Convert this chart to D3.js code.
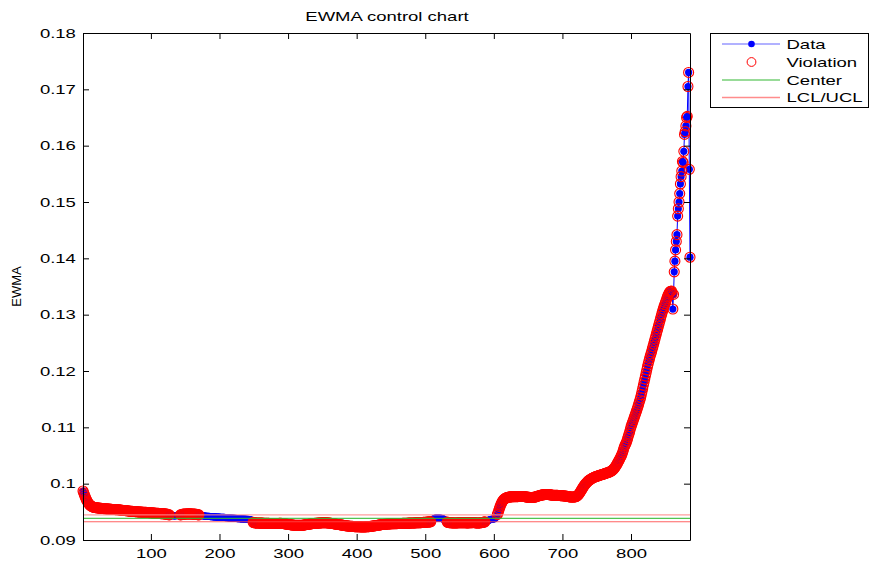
<!DOCTYPE html>
<html><head><meta charset="utf-8">
<script src="https://cdn.jsdelivr.net/npm/d3@7"></script>
<style>
body{margin:0;background:#fff}
svg{display:block}
text{font-family:"Liberation Sans",Arial,Helvetica,sans-serif;fill:#000}
</style>
</head><body>
<svg id="c" width="869" height="564"></svg>
<script>
// ---- data ----
const ewma = [
0.09869,0.09838,0.09805,0.09772,0.09742,0.09715,0.09690,0.09668,0.09650,0.09634,
0.09620,0.09610,0.09601,0.09594,0.09588,0.09584,0.09580,0.09577,0.09575,0.09574,
0.09572,0.09570,0.09569,0.09567,0.09566,0.09564,0.09563,0.09561,0.09560,0.09558,
0.09557,0.09556,0.09555,0.09554,0.09553,0.09552,0.09551,0.09550,0.09549,0.09548,
0.09546,0.09545,0.09543,0.09542,0.09542,0.09541,0.09541,0.09540,0.09540,0.09539,
0.09538,0.09537,0.09536,0.09535,0.09533,0.09531,0.09529,0.09527,0.09526,0.09525,
0.09524,0.09523,0.09522,0.09521,0.09520,0.09518,0.09516,0.09514,0.09512,0.09511,
0.09510,0.09509,0.09508,0.09507,0.09506,0.09505,0.09504,0.09503,0.09502,0.09501,
0.09500,0.09499,0.09498,0.09497,0.09496,0.09495,0.09494,0.09493,0.09492,0.09492,
0.09491,0.09491,0.09490,0.09489,0.09488,0.09487,0.09486,0.09485,0.09484,0.09483,
0.09482,0.09481,0.09480,0.09479,0.09478,0.09477,0.09476,0.09475,0.09474,0.09473,
0.09472,0.09471,0.09470,0.09469,0.09468,0.09467,0.09466,0.09465,0.09464,0.09463,
0.09462,0.09460,0.09458,0.09455,0.09452,0.09449,0.09446,0.09442,0.09439,0.09436,
0.09434,0.09432,0.09431,0.09430,0.09430,0.09431,0.09433,0.09435,0.09437,0.09439,
0.09441,0.09443,0.09446,0.09449,0.09452,0.09454,0.09456,0.09458,0.09459,0.09460,
0.09461,0.09462,0.09462,0.09463,0.09463,0.09463,0.09463,0.09462,0.09462,0.09461,
0.09460,0.09459,0.09458,0.09457,0.09455,0.09454,0.09452,0.09450,0.09448,0.09446,
0.09443,0.09440,0.09437,0.09434,0.09431,0.09429,0.09427,0.09425,0.09424,0.09423,
0.09422,0.09421,0.09420,0.09419,0.09418,0.09417,0.09416,0.09415,0.09414,0.09413,
0.09412,0.09411,0.09410,0.09409,0.09408,0.09407,0.09406,0.09406,0.09405,0.09405,
0.09404,0.09404,0.09403,0.09403,0.09402,0.09401,0.09400,0.09399,0.09398,0.09397,
0.09396,0.09395,0.09394,0.09393,0.09392,0.09391,0.09390,0.09389,0.09388,0.09387,
0.09386,0.09385,0.09384,0.09383,0.09382,0.09381,0.09380,0.09379,0.09378,0.09377,
0.09376,0.09375,0.09374,0.09373,0.09372,0.09371,0.09370,0.09369,0.09368,0.09367,
0.09366,0.09365,0.09364,0.09362,0.09360,0.09355,0.09345,0.09330,0.09315,0.09308,
0.09305,0.09304,0.09303,0.09303,0.09302,0.09302,0.09301,0.09301,0.09300,0.09300,
0.09300,0.09299,0.09299,0.09298,0.09298,0.09297,0.09297,0.09296,0.09296,0.09295,
0.09295,0.09295,0.09294,0.09294,0.09294,0.09293,0.09293,0.09293,0.09292,0.09292,
0.09292,0.09292,0.09293,0.09293,0.09294,0.09294,0.09295,0.09295,0.09295,0.09295,
0.09294,0.09293,0.09292,0.09290,0.09288,0.09286,0.09284,0.09282,0.09280,0.09278,
0.09276,0.09274,0.09272,0.09270,0.09268,0.09266,0.09265,0.09264,0.09263,0.09262,
0.09261,0.09260,0.09260,0.09259,0.09259,0.09259,0.09259,0.09260,0.09260,0.09261,
0.09262,0.09264,0.09266,0.09268,0.09270,0.09272,0.09274,0.09276,0.09278,0.09280,
0.09282,0.09284,0.09286,0.09288,0.09290,0.09292,0.09293,0.09294,0.09295,0.09296,
0.09297,0.09298,0.09299,0.09300,0.09301,0.09302,0.09303,0.09304,0.09305,0.09305,
0.09306,0.09306,0.09306,0.09306,0.09305,0.09305,0.09304,0.09303,0.09302,0.09301,
0.09300,0.09298,0.09296,0.09294,0.09292,0.09290,0.09288,0.09286,0.09284,0.09282,
0.09280,0.09278,0.09276,0.09274,0.09272,0.09270,0.09268,0.09266,0.09264,0.09262,
0.09260,0.09258,0.09256,0.09254,0.09252,0.09250,0.09248,0.09247,0.09246,0.09245,
0.09244,0.09243,0.09242,0.09241,0.09240,0.09239,0.09238,0.09237,0.09236,0.09236,
0.09235,0.09235,0.09234,0.09234,0.09233,0.09233,0.09233,0.09232,0.09232,0.09232,
0.09232,0.09233,0.09233,0.09234,0.09235,0.09236,0.09237,0.09238,0.09240,0.09241,
0.09243,0.09244,0.09246,0.09248,0.09250,0.09252,0.09254,0.09256,0.09258,0.09260,
0.09262,0.09264,0.09266,0.09268,0.09270,0.09272,0.09274,0.09276,0.09277,0.09278,
0.09279,0.09280,0.09281,0.09282,0.09283,0.09284,0.09285,0.09286,0.09287,0.09288,
0.09288,0.09289,0.09289,0.09290,0.09290,0.09290,0.09291,0.09291,0.09291,0.09292,
0.09292,0.09292,0.09293,0.09293,0.09294,0.09294,0.09295,0.09295,0.09296,0.09296,
0.09297,0.09297,0.09298,0.09298,0.09299,0.09299,0.09300,0.09300,0.09301,0.09301,
0.09302,0.09302,0.09303,0.09303,0.09304,0.09304,0.09305,0.09305,0.09306,0.09306,
0.09307,0.09307,0.09308,0.09309,0.09310,0.09311,0.09312,0.09313,0.09314,0.09315,
0.09316,0.09317,0.09318,0.09319,0.09320,0.09321,0.09322,0.09323,0.09330,0.09345,
0.09360,0.09372,0.09380,0.09386,0.09390,0.09392,0.09393,0.09393,0.09392,0.09391,
0.09390,0.09388,0.09386,0.09384,0.09380,0.09375,0.09368,0.09360,0.09350,0.09338,
0.09328,0.09320,0.09314,0.09310,0.09308,0.09306,0.09305,0.09305,0.09304,0.09304,
0.09304,0.09303,0.09303,0.09303,0.09303,0.09304,0.09304,0.09305,0.09305,0.09306,
0.09306,0.09307,0.09307,0.09307,0.09307,0.09306,0.09306,0.09305,0.09305,0.09304,
0.09304,0.09304,0.09304,0.09305,0.09305,0.09306,0.09307,0.09308,0.09309,0.09310,
0.09309,0.09308,0.09306,0.09304,0.09303,0.09302,0.09302,0.09303,0.09304,0.09305,
0.09307,0.09309,0.09311,0.09313,0.09316,0.09319,0.09322,0.09326,0.09331,0.09337,
0.09343,0.09349,0.09354,0.09358,0.09362,0.09365,0.09368,0.09370,0.09373,0.09376,
0.09381,0.09390,0.09405,0.09425,0.09450,0.09480,0.09515,0.09555,0.09590,0.09622,
0.09650,0.09674,0.09694,0.09711,0.09724,0.09734,0.09742,0.09748,0.09753,0.09757,
0.09760,0.09762,0.09764,0.09765,0.09766,0.09767,0.09768,0.09768,0.09769,0.09769,
0.09769,0.09769,0.09770,0.09770,0.09770,0.09771,0.09771,0.09772,0.09772,0.09773,
0.09773,0.09773,0.09772,0.09771,0.09769,0.09767,0.09765,0.09763,0.09761,0.09759,
0.09757,0.09756,0.09755,0.09754,0.09754,0.09755,0.09756,0.09758,0.09760,0.09763,
0.09766,0.09770,0.09774,0.09778,0.09782,0.09786,0.09790,0.09793,0.09796,0.09799,
0.09801,0.09803,0.09805,0.09806,0.09807,0.09808,0.09808,0.09808,0.09807,0.09806,
0.09805,0.09803,0.09801,0.09799,0.09797,0.09795,0.09794,0.09793,0.09793,0.09793,
0.09793,0.09793,0.09792,0.09791,0.09790,0.09789,0.09788,0.09787,0.09786,0.09785,
0.09784,0.09783,0.09782,0.09780,0.09778,0.09776,0.09774,0.09772,0.09770,0.09768,
0.09766,0.09764,0.09763,0.09762,0.09762,0.09762,0.09763,0.09765,0.09768,0.09772,
0.09778,0.09788,0.09800,0.09815,0.09832,0.09851,0.09871,0.09892,0.09913,0.09933,
0.09952,0.09970,0.09986,0.10001,0.10015,0.10028,0.10040,0.10051,0.10061,0.10070,
0.10078,0.10086,0.10093,0.10100,0.10106,0.10112,0.10117,0.10122,0.10127,0.10131,
0.10135,0.10139,0.10143,0.10147,0.10151,0.10155,0.10159,0.10163,0.10167,0.10171,
0.10175,0.10179,0.10183,0.10187,0.10191,0.10195,0.10199,0.10204,0.10209,0.10215,
0.10222,0.10230,0.10240,0.10251,0.10264,0.10279,0.10296,0.10315,0.10336,0.10358,
0.10380,0.10402,0.10425,0.10450,0.10475,0.10500,0.10530,0.10565,0.10605,0.10645,
0.10675,0.10700,0.10725,0.10760,0.10800,0.10840,0.10880,0.10920,0.10965,0.11010,
0.11045,0.11080,0.11115,0.11150,0.11185,0.11220,0.11255,0.11290,0.11325,0.11365,
0.11405,0.11445,0.11485,0.11530,0.11580,0.11635,0.11690,0.11745,0.11800,0.11855,
0.11910,0.11965,0.12020,0.12075,0.12125,0.12175,0.12220,0.12265,0.12305,0.12345,
0.12390,0.12435,0.12480,0.12525,0.12570,0.12615,0.12660,0.12705,0.12750,0.12795,
0.12840,0.12885,0.12930,0.12975,0.13020,0.13060,0.13100,0.13140,0.13175,0.13210,
0.13245,0.13280,0.13315,0.13345,0.13370,0.13395,0.13410,0.13415,0.13420,0.13380,
0.13100,0.13360,0.13760,0.13950,0.14150,0.14300,0.14420,0.14750,0.14880,0.15000,
0.15150,0.15320,0.15450,0.15550,0.15720,0.15700,0.15900,0.16200,0.16250,0.16350,
0.16500,0.16520,0.17050,0.17300,0.15580,0.14020
];
const centerValue = 0.09385;
const uclValue = 0.09445;
const lclValue = 0.09325;
const xTicks = [100, 200, 300, 400, 500, 600, 700, 800];
const yTicks = [0.09, 0.10, 0.11, 0.12, 0.13, 0.14, 0.15, 0.16, 0.17, 0.18];
const yTickLabels = ["0.09", "0.1", "0.11", "0.12", "0.13", "0.14", "0.15", "0.16", "0.17", "0.18"];
const legendLabels = ["Data", "Violation", "Center", "LCL/UCL"];
const titleText = "EWMA control chart";
const yLabelText = "EWMA";

// ---- layout ----
const L = 83, R = 690, T = 33, B = 540;
const SX = 1.37, FS = 13.5;
const svg = d3.select("#c");
svg.append("rect").attr("width", 869).attr("height", 564).attr("fill", "#fff");

const x = d3.scaleLinear().domain([1, ewma.length]).range([L, R]);
const y = d3.scaleLinear().domain([0.09, 0.18]).range([B, T]);

const pts = ewma.map((v, i) => ({ i: i + 1, v }));
const viol = pts.filter(d => d.v > uclValue || d.v < lclValue);

// data line + markers
svg.append("path").datum(pts)
  .attr("fill", "none").attr("stroke", "#0000ff").attr("stroke-width", 1)
  .attr("d", d3.line().x(d => x(d.i)).y(d => y(d.v)));
svg.append("g").selectAll("circle").data(pts).join("circle")
  .attr("cx", d => x(d.i)).attr("cy", d => y(d.v)).attr("r", 3.6).attr("fill", "#0000ff");
svg.append("g").selectAll("circle").data(viol).join("circle")
  .attr("cx", d => x(d.i)).attr("cy", d => y(d.v)).attr("r", 5)
  .attr("fill", "none").attr("stroke", "#ff0000").attr("stroke-width", 1.1);

// center & limits
const limits = [
  { v: uclValue, c: "#ff8c8c", w: 1.3 },
  { v: centerValue, c: "#33b833", w: 1.2 },
  { v: lclValue, c: "#ff4848", w: 1.1 }
];
svg.append("g").selectAll("line").data(limits).join("line")
  .attr("x1", L).attr("x2", R)
  .attr("y1", d => y(d.v)).attr("y2", d => y(d.v))
  .attr("stroke", d => d.c).attr("stroke-width", d => d.w).attr("stroke-opacity", 0.85);

// axes
function styleAxis(g) {
  g.attr("font-size", null).attr("font-family", null);
  g.selectAll("path.domain").attr("stroke", "#000").attr("stroke-width", 1);
  g.selectAll(".tick line").attr("stroke", "#000").attr("stroke-width", 1);
  g.selectAll(".tick text").attr("font-size", FS).attr("fill", "#000")
    .attr("transform", `scale(${SX},1)`);
}
const gx = svg.append("g").attr("transform", `translate(0,${B})`)
  .call(d3.axisBottom(x).tickValues(xTicks).tickSizeInner(-6).tickSizeOuter(0).tickPadding(8));
styleAxis(gx);
const gy = svg.append("g").attr("transform", `translate(${L},0)`)
  .call(d3.axisLeft(y).tickValues(yTicks).tickFormat((d, i) => yTickLabels[i])
    .tickSizeInner(-6).tickSizeOuter(0).tickPadding(6));
styleAxis(gy);
gy.selectAll(".tick text").attr("x", -5.2);
const gt = svg.append("g").attr("transform", `translate(0,${T})`)
  .call(d3.axisTop(x).tickValues(xTicks).tickSizeInner(-6).tickSizeOuter(0).tickFormat(""));
styleAxis(gt);
const gr = svg.append("g").attr("transform", `translate(${R},0)`)
  .call(d3.axisRight(y).tickValues(yTicks).tickSizeInner(-6).tickSizeOuter(0).tickFormat(""));
styleAxis(gr);

// title and y label
svg.append("text").attr("text-anchor", "middle").attr("font-size", FS)
  .attr("transform", `translate(${(L + R) / 2 + 0.5},${21}) scale(${SX},1)`).text(titleText);
svg.append("text").attr("text-anchor", "middle").attr("font-size", 13)
  .attr("transform", `translate(21,${(T + B) / 2}) rotate(-90)`).text(yLabelText);

// legend
const lg = svg.append("g");
lg.append("rect").attr("x", 710.5).attr("y", 33.5).attr("width", 158).attr("height", 74)
  .attr("fill", "#fff").attr("stroke", "#000").attr("stroke-width", 1);
const rowY = [44, 62, 80, 97.5];
const lx1 = 722, lx2 = 780, lmid = 751.5;
lg.append("line").attr("x1", lx1).attr("x2", lx2).attr("y1", rowY[0]).attr("y2", rowY[0])
  .attr("stroke", "#6464ff").attr("stroke-width", 1.2);
lg.append("circle").attr("cx", lmid).attr("cy", rowY[0]).attr("r", 3.3).attr("fill", "#0000ff");
lg.append("circle").attr("cx", lmid).attr("cy", rowY[1]).attr("r", 4.4)
  .attr("fill", "none").attr("stroke", "#ff0000").attr("stroke-width", 1);
lg.append("line").attr("x1", lx1).attr("x2", lx2).attr("y1", rowY[2]).attr("y2", rowY[2])
  .attr("stroke", "#33b833").attr("stroke-width", 1.2);
lg.append("line").attr("x1", lx1).attr("x2", lx2).attr("y1", rowY[3]).attr("y2", rowY[3])
  .attr("stroke", "#ff8c8c").attr("stroke-width", 1.3);
lg.selectAll("text.lab").data(legendLabels).join("text").attr("class", "lab")
  .attr("font-size", FS)
  .attr("transform", (d, i) => `translate(786.5,${rowY[i] + 4.6}) scale(${SX},1)`)
  .text(d => d);
</script>
</body></html>
